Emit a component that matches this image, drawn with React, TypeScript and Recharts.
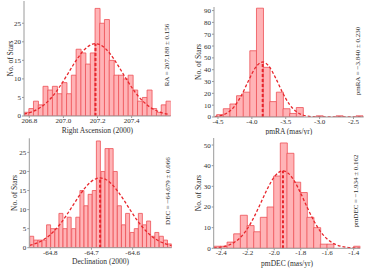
import React from 'react';
import { ComposedChart, Bar, Line, XAxis, YAxis, ReferenceLine } from 'recharts';

// Right Ascension histogram (bin centres, counts) and fitted gaussian samples
const raBins = [206.783, 206.811, 206.838, 206.866, 206.894, 206.922, 206.949, 206.977, 207.005, 207.032, 207.06, 207.088, 207.116, 207.143, 207.171, 207.199, 207.226, 207.254, 207.282, 207.31, 207.337, 207.365, 207.393, 207.42, 207.448, 207.476, 207.504, 207.531, 207.559, 207.587, 207.615];
const raCounts = [1, 2, 4, 3, 8, 7, 8, 6, 9, 6, 11, 18, 17, 14, 17, 29, 25, 26, 15, 11, 11, 10, 11, 7, 4, 5, 7, 2, 1, 3, 4];
const raFitX = [206.77, 206.82, 206.87, 206.92, 206.97, 207.02, 207.07, 207.12, 207.17, 207.188, 207.22, 207.27, 207.32, 207.37, 207.42, 207.47, 207.52, 207.57, 207.62];
const raFitY = [0.54, 1.21, 2.44, 4.46, 7.35, 10.92, 14.65, 17.73, 19.37, 19.5, 19.09, 16.99, 13.63, 9.87, 6.45, 3.81, 2.03, 0.97, 0.42];
const raTicks = [206.8, 207.0, 207.2, 207.4];

// pmRA
const pmraBins = [-4.471, -4.373, -4.275, -4.177, -4.079, -3.981, -3.883, -3.785, -3.687, -3.589, -3.491, -3.393, -3.295, -3.197, -3.099, -3.001, -2.903, -2.805, -2.707, -2.609, -2.511, -2.413];
const pmraCounts = [2, 7, 11, 18, 21, 56, 92, 42, 13, 21, 7, 3, 8, 0, 0, 1, 0, 0, 1, 0, 0, 1];
const pmraFitX = [-4.55, -4.45, -4.35, -4.25, -4.15, -4.05, -3.95, -3.84, -3.75, -3.65, -3.55, -3.45, -3.35, -3.25, -3.15, -3.05, -2.85, -2.65, -2.36];
const pmraFitY = [0.4, 1.38, 3.98, 9.5, 18.75, 30.65, 41.47, 46.5, 43.07, 33.06, 21.0, 11.05, 4.81, 1.73, 0.52, 0.13, 0, 0, 0];
const pmraTicks = [-4.5, -4.0, -3.5, -3.0, -2.5];

// Declination
const decBins = [-64.845, -64.835, -64.825, -64.815, -64.804, -64.794, -64.784, -64.774, -64.764, -64.754, -64.743, -64.733, -64.723, -64.713, -64.703, -64.693, -64.683, -64.672, -64.662, -64.652, -64.642, -64.632, -64.622, -64.612, -64.601, -64.591, -64.581, -64.571, -64.561, -64.551, -64.541, -64.53, -64.52, -64.51];
const decCounts = [3, 2, 2, 2, 6, 5, 5, 9, 5, 8, 5, 8, 15, 11, 14, 15, 28, 20, 26, 26, 20, 11, 6, 9, 4, 5, 9, 6, 7, 3, 4, 3, 2, 1];
const decFitX = [-64.85, -64.835, -64.82, -64.805, -64.79, -64.775, -64.76, -64.745, -64.73, -64.715, -64.7, -64.679, -64.665, -64.65, -64.635, -64.62, -64.605, -64.59, -64.575, -64.56, -64.545, -64.53, -64.515, -64.505];
const decFitY = [0.64, 1.12, 1.87, 2.96, 4.45, 6.35, 8.62, 11.1, 13.58, 15.77, 17.4, 18.3, 17.89, 16.62, 14.65, 12.27, 9.76, 7.37, 5.29, 3.6, 2.33, 1.43, 0.84, 0.57];
const decTicks = [-64.8, -64.7, -64.6];

// pmDEC
const pmdecBins = [-2.432, -2.382, -2.331, -2.281, -2.231, -2.18, -2.13, -2.08, -2.029, -1.979, -1.929, -1.879, -1.828, -1.778, -1.728, -1.677, -1.627, -1.577, -1.526, -1.476, -1.426, -1.375];
const pmdecCounts = [1, 1, 3, 7, 16, 11, 8, 15, 20, 35, 51, 46, 32, 27, 15, 10, 2, 2, 0, 0, 0, 1];
const pmdecFitX = [-2.457, -2.4, -2.35, -2.3, -2.25, -2.2, -2.15, -2.1, -2.05, -2.0, -1.934, -1.9, -1.85, -1.8, -1.75, -1.7, -1.65, -1.6, -1.55, -1.5, -1.45, -1.4, -1.35];
const pmdecFitY = [0.2, 0.6, 1.39, 2.92, 5.59, 9.74, 15.42, 22.19, 29.02, 34.52, 37.5, 36.68, 32.78, 26.64, 19.68, 13.21, 8.07, 4.48, 2.26, 1.04, 0.43, 0.16, 0.06];
const pmdecTicks = [-2.4, -2.2, -2.0, -1.8, -1.6, -1.4];

const FONT = '"Liberation Serif", "Times New Roman", serif';
const FILL = '#ffb3b6';
const EDGE = '#ee5057';
const FIT = '#e8262c';
const FRAME = '#9a9a9a';
const INK = '#2e2e2e';

const panels = [
  {
    bins: raBins, counts: raCounts, fitX: raFitX, fitY: raFitY, xTicks: raTicks,
    xDomain: [206.769, 207.629], yMax: 31, yTicks: [0, 5, 10, 15, 20, 25],
    mean: 207.188, peak: 19.5, xLabel: 'Right Ascension (2000)', note: 'RA = 207.188 ± 0.156',
  },
  {
    bins: pmraBins, counts: pmraCounts, fitX: pmraFitX, fitY: pmraFitY, xTicks: pmraTicks,
    xDomain: [-4.559, -2.349], yMax: 93, yTicks: [0, 10, 20, 30, 40, 50, 60, 70, 80, 90],
    mean: -3.84, peak: 46.5, xLabel: 'pmRA (mas/yr)', note: 'pmRA = −3.840 ± 0.230',
  },
  {
    bins: decBins, counts: decCounts, fitX: decFitX, fitY: decFitY, xTicks: decTicks,
    xDomain: [-64.851, -64.505], yMax: 28.7, yTicks: [0, 5, 10, 15, 20, 25],
    mean: -64.679, peak: 18.3, xLabel: 'Declination (2000)', note: 'DEC = −64.679 ± 0.066',
  },
  {
    bins: pmdecBins, counts: pmdecCounts, fitX: pmdecFitX, fitY: pmdecFitY, xTicks: pmdecTicks,
    xDomain: [-2.457, -1.35], yMax: 53.4, yTicks: [0, 10, 20, 30, 40, 50],
    mean: -1.934, peak: 37.5, xLabel: 'pmDEC (mas/yr)', note: 'pmDEC = −1.934 ± 0.162',
  },
];

const layouts = [
  { left: 0, top: 0, mt: 1, mr: 16.3, yW: 24, xH: 19, xOff: 2.5, yOff: 10, noteX: 167, noteY: 55 },
  { left: 187, top: 0, mt: 7, mr: 10.3, yW: 27, xH: 18, xOff: 1.5, yOff: 11.7, noteX: 170.7, noteY: 61 },
  { left: 0, top: 135, mt: 3.3, mr: 15.3, yW: 29.3, xH: 22.3, xOff: 5.8, yOff: 14.5, noteX: 168, noteY: 56 },
  { left: 187, top: 135, mt: 3, mr: 13.7, yW: 26.7, xH: 21.7, xOff: 4.2, yOff: 11.2, noteX: 169, noteY: 56 },
];

const Histogram = ({ p, lay }: { p: any; lay: any }) => {
  const data = p.bins.map((x: number, i: number) => ({ x, count: p.counts[i] }));
  const fit = p.fitX.map((x: number, i: number) => ({ x, y: p.fitY[i] }));
  const tickStyle = { fontSize: 7, fill: INK, fontFamily: FONT };
  const labelStyle = { fontSize: 7.5, fill: INK, fontFamily: FONT };

  return (
    <div style={{ position: 'absolute', left: lay.left, top: lay.top, width: 187, height: 135 }}>
      <ComposedChart
        width={187}
        height={135}
        data={data}
        margin={{ top: lay.mt, right: lay.mr, bottom: 0, left: 0 }}
        barCategoryGap={0}
        barGap={0}
      >
        <XAxis
          dataKey="x"
          type="number"
          domain={p.xDomain}
          allowDataOverflow
          ticks={p.xTicks}
          interval={0}
          tickFormatter={(v: number) => v.toFixed(1)}
          height={lay.xH}
          tickSize={2}
          tickMargin={0}
          stroke={FRAME}
          tick={tickStyle}
          label={{ value: p.xLabel, position: 'insideBottom', offset: lay.xOff, style: labelStyle }}
        />
        <XAxis
          xAxisId="fit"
          dataKey="x"
          type="number"
          orientation="top"
          domain={p.xDomain}
          allowDataOverflow
          height={0}
          tick={false}
          tickLine={false}
          stroke={FRAME}
        />
        <YAxis
          type="number"
          domain={[0, p.yMax]}
          allowDataOverflow
          ticks={p.yTicks}
          interval={0}
          width={lay.yW}
          tickSize={2}
          tickMargin={1}
          stroke={FRAME}
          tick={tickStyle}
          label={{
            value: 'No. of Stars',
            angle: -90,
            position: 'insideLeft',
            offset: lay.yOff,
            style: { ...labelStyle, textAnchor: 'middle' },
          }}
        />
        <YAxis
          yAxisId="r"
          orientation="right"
          type="number"
          domain={[0, p.yMax]}
          width={0}
          tick={false}
          tickLine={false}
          stroke={FRAME}
        />
        <Bar dataKey="count" fill={FILL} stroke={EDGE} strokeWidth={0.8} isAnimationActive={false} />
        <Line
          xAxisId="fit"
          data={fit}
          dataKey="y"
          type="monotone"
          stroke={FIT}
          strokeWidth={1.3}
          strokeDasharray="3 2"
          dot={false}
          activeDot={false}
          isAnimationActive={false}
        />
        <ReferenceLine
          segment={[{ x: p.mean, y: 0 }, { x: p.mean, y: p.peak }]}
          stroke={FIT}
          strokeWidth={2}
          strokeDasharray="3 2"
        />
      </ComposedChart>
      <div
        style={{
          position: 'absolute',
          left: lay.noteX,
          top: lay.noteY,
          transform: 'translate(-50%, -50%) rotate(-90deg)',
          fontFamily: FONT,
          fontSize: 7,
          color: INK,
          whiteSpace: 'nowrap',
        }}
      >
        {p.note}
      </div>
    </div>
  );
};

export default function App() {
  return (
    <div style={{ position: 'absolute', left: 0, top: 0, width: 375, height: 270, background: '#fff', overflow: 'hidden' }}>
      {panels.map((p, i) => (
        <Histogram key={i} p={p} lay={layouts[i]} />
      ))}
    </div>
  );
}
